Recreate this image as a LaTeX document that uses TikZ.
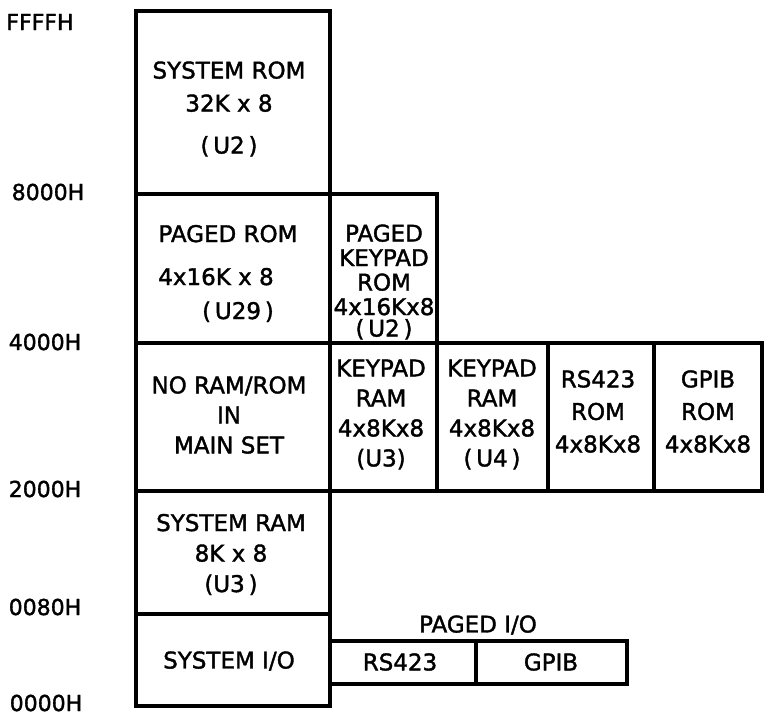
\documentclass[tikz,border=0pt]{standalone}
\usepackage{fontspec}
\setmainfont{DejaVu Sans}[FakeBold=1.6]
\usepackage{tikz}

\begin{document}
\begin{tikzpicture}[
  x=1pt, y=-1pt,
  blk/.style={draw, line width=3.2pt, inner sep=0pt, outer sep=0pt},
  txt/.style={align=center, inner sep=0pt, font=\fontsize{23}{31}\selectfont},
  addr/.style={inner sep=0pt, font=\fontsize{22}{26}\selectfont}
]
  \useasboundingbox (0,0) rectangle (764,716);

  % main set
  \node[blk, minimum width=194pt, minimum height=183pt] (sysrom) at (233,102.5) {};
  \node[blk, minimum width=194pt, minimum height=149pt] (pagrom) at (233,268.5) {};
  \node[blk, minimum width=194pt, minimum height=148pt] (noram) at (233,417) {};
  \node[blk, minimum width=194pt, minimum height=123pt] (sysram) at (233,552.5) {};
  \node[blk, minimum width=194pt, minimum height=92pt] (sysio) at (233,660) {};

  \node[txt, font=\fontsize{23}{33}\selectfont] (sysromtxt) at (229,109) {SYSTEM ROM\\32K x 8\\[9pt](\,U2\,)};
  \node[txt, font=\fontsize{23}{34}\selectfont] (pagromtxt) at (228,273.5) {PAGED ROM\\[9pt]4x16K x 8\rule{24pt}{0pt}\\\rule{20pt}{0pt}(\,U29\,)};
  \node[txt, font=\fontsize{23}{30}\selectfont] (noramtxt) at (229,415) {NO RAM/ROM\\IN\\MAIN SET};
  \node[txt, font=\fontsize{23}{30.5}\selectfont] (sysramtxt) at (231,554.5) {SYSTEM RAM\\8K x 8\\(U3\,)};
  \node[txt] (sysiotxt) at (229,661) {SYSTEM I/O};

  % keypad set
  \node[blk, minimum width=107pt, minimum height=149pt] (kprom) at (383.5,268.5) {};
  \node[blk, minimum width=107pt, minimum height=148pt] (kpram3) at (383.5,417) {};
  \node[blk, minimum width=111pt, minimum height=148pt] (kpram4) at (492.5,417) {};
  \node[blk, minimum width=106pt, minimum height=148pt] (rsrom) at (601,417) {};
  \node[blk, minimum width=108pt, minimum height=148pt] (gpibrom) at (708,417) {};

  \node[txt, font=\fontsize{23}{24.5}\selectfont] (kpromtxt) at (384,282) {PAGED\\KEYPAD\\ROM\\4x16Kx8\\[-3pt](\,U2\,)};
  \node[txt, font=\fontsize{23}{30}\selectfont] (kpram3txt) at (381,414.5) {KEYPAD\\RAM\\4x8Kx8\\(U3)};
  \node[txt, font=\fontsize{23}{30}\selectfont] (kpram4txt) at (492,414.5) {KEYPAD\\RAM\\4x8Kx8\\(\,U4\,)};
  \node[txt, font=\fontsize{23}{32.5}\selectfont] (rsromtxt) at (598,411.5) {RS423\\ROM\\4x8Kx8};
  \node[txt, font=\fontsize{23}{32.5}\selectfont] (gpibromtxt) at (708,411.5) {GPIB\\ROM\\4x8Kx8};

  % paged i/o
  \node[blk, minimum width=146pt, minimum height=43pt] (rsio) at (403,662.5) {};
  \node[blk, minimum width=151pt, minimum height=43pt] (gpibio) at (551.5,662.5) {};
  \node[txt] (rsiotxt) at (400,662) {RS423};
  \node[txt] (gpibiotxt) at (551,662) {GPIB};
  \node[txt] (pagiotxt) at (478,625) {PAGED I/O};

  % addresses
  \node[addr] (affff) at (40,22) {FFFFH};
  \node[addr] (a8000) at (48,192) {8000H};
  \node[addr] (a4000) at (45,342) {4000H};
  \node[addr] (a2000) at (45,489) {2000H};
  \node[addr] (a0080) at (45,607) {0080H};
  \node[addr] (a0000) at (46,703) {0000H};
\end{tikzpicture}
\end{document}
